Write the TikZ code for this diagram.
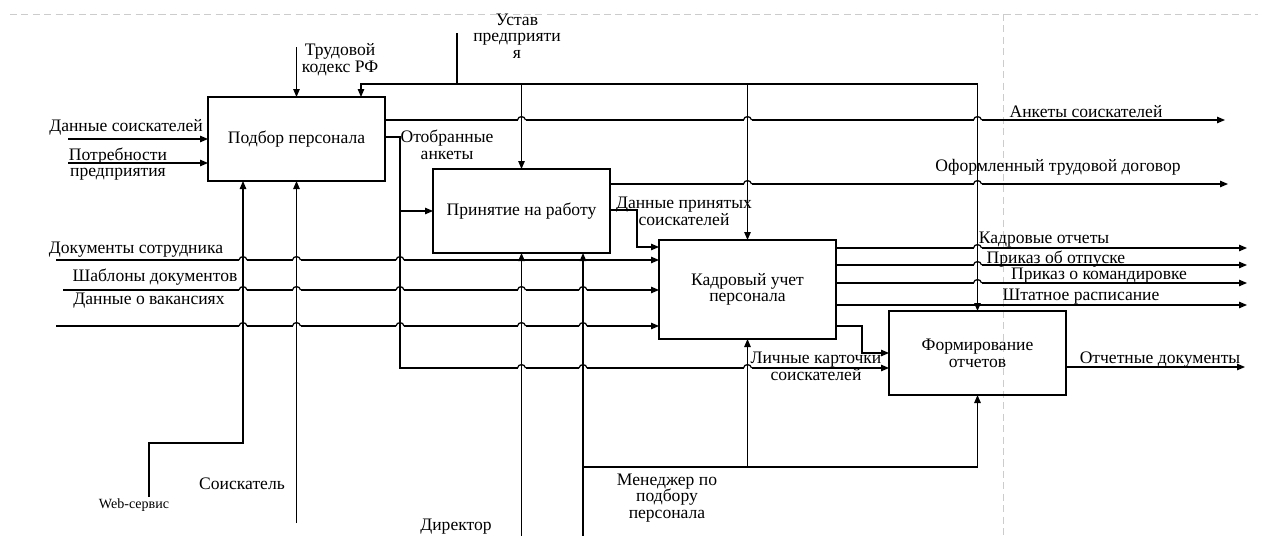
\documentclass[tikz,border=0pt]{standalone}
\usepackage{fontspec}
\setmainfont{Liberation Serif}
\usetikzlibrary{arrows.meta}
\newcommand{\hop}[2]{%
  \begin{scope}[shift={(#1,#2)}]
    \fill[white] (-4,-1.4) rectangle (4,1.4);
    \draw[line width=0.7pt] (0,-3) -- (0,3);
    \draw[line width=0.7pt] (-4,0) .. controls (-3.5,-4.5) and (3.5,-4.5) .. (4,0);
  \end{scope}}

\begin{document}
\begin{tikzpicture}[x=0.2mm, y=-0.2mm,
  func/.style={draw, line width=0.7pt, minimum width=35.4mm, minimum height=16.8mm,
               inner sep=0pt, outer sep=0pt, align=center, font=\fontsize{10}{9.5}\selectfont},
  lbl/.style={inner sep=0pt, align=center, font=\fontsize{10}{9.5}\selectfont},
  flow/.style={-{Triangle[length=1.6mm, width=1.3mm]}, line width=0.7pt},
  border/.style={gray!40, dash pattern=on 4pt off 2.5pt, line width=0.5pt},
]
\useasboundingbox (0,0) rectangle (1264,536);
\draw[border] (10,14) -- (1258,14);
\draw[border] (1003,14) -- (1003,536);

% functions
\node[func] (podbor) at (296.5,139) {Подбор персонала};
\node[func] (priem)  at (521.5,211) {Принятие на работу};
\node[func, minimum height=19.8mm] (uchet) at (747.5,289.5) {Кадровый учет\\персонала};
\node[func] (otchet) at (977.5,353) {Формирование\\отчетов};

% free ends
\coordinate (dsIn)    at (68,139);
\coordinate (potrIn)  at (68,163);
\coordinate (docIn)   at (56,260);
\coordinate (shabIn)  at (63,290);
\coordinate (vakIn)   at (56,326);
\coordinate (tkIn)    at (296.5,47);
\coordinate (ustavIn) at (457,33);
\coordinate (ustavL)  at (361,84);
\coordinate (ustavR)  at (977.5,84);
\coordinate (ankOut)  at (1225,120);
\coordinate (otobJ)   at (400,137);
\coordinate (lichnJ)  at (400,368);
\coordinate (dogOut)  at (1228,184);
\coordinate (dpJ)     at (637,210);
\coordinate (dpK)     at (637,247);
\coordinate (kadrOut) at (1247,248);
\coordinate (otpOut)  at (1247,265);
\coordinate (komOut)  at (1247,283);
\coordinate (shtOut)  at (1247,305);
\coordinate (uoJ)     at (862,326);
\coordinate (otchOut) at (1245,367);
\coordinate (webIn)   at (149,497);
\coordinate (webJ)    at (243,443);
\coordinate (soisIn)  at (296.5,523);
\coordinate (dirIn)   at (521.5,536);
\coordinate (menIn)   at (583,536);
\coordinate (menJ)    at (583,467);

% inputs
\draw[flow] (dsIn) -- (podbor.west);
\draw[flow] (potrIn) -- (potrIn -| podbor.west);
\draw[flow] (docIn) -- (docIn -| uchet.west);
\draw[flow] (shabIn) -- (shabIn -| uchet.west);
\draw[flow] (vakIn) -- (vakIn -| uchet.west);

% controls
\draw[flow] (tkIn) -- (podbor.north);
\draw[flow] (ustavIn) |- (ustavL) -- (ustavL |- podbor.north);
\draw[flow] (ustavIn |- ustavL) -- (ustavR) -- (otchet.north);
\draw[flow] (priem.north |- ustavL) -- (priem.north);
\draw[flow] (uchet.north |- ustavL) -- (uchet.north);

% outputs
\draw[flow] (podbor.east |- ankOut) -- (ankOut);
\draw[flow] (otobJ -| podbor.east) -- (otobJ) |- (priem.west);
\draw[flow] (otobJ) -- (lichnJ) -- (lichnJ -| otchet.west);
\draw[flow] (priem.east |- dogOut) -- (dogOut);
\draw[flow] (dpJ -| priem.east) -- (dpJ) -- (dpK) -- (dpK -| uchet.west);
\foreach \o in {kadrOut, otpOut, komOut, shtOut}
  \draw[flow] (uchet.east |- \o) -- (\o);
\draw[flow] (uoJ -| uchet.east) -- (uoJ) |- (otchet.west);
\draw[flow] (otchet.east |- otchOut) -- (otchOut);

% mechanisms
\draw[flow] (webIn) |- (webJ) -- (webJ |- podbor.south);
\draw[flow] (soisIn) -- (podbor.south);
\draw[flow] (dirIn) -- (priem.south);
\draw[flow] (menIn) -- (menIn |- priem.south);
\draw[flow] (menJ) -| (otchet.south);
\draw[flow] (menJ -| uchet.south) -- (uchet.south);

% line jumps
\foreach \x/\y in {521.5/120, 747.5/120, 977.5/120, 747.5/184, 977.5/184,
                   977.5/248, 977.5/265, 977.5/283,
                   243/260, 296.5/260, 400/260,
                   243/290, 296.5/290, 400/290, 521.5/290, 583/290,
                   243/326, 296.5/326, 400/326, 521.5/326, 583/326,
                   521.5/368, 583/368, 747.5/368}
  \hop{\x}{\y};

% labels
\node[lbl] (dsL)    at (126,127)  {Данные соискателей};
\node[lbl] (potrL)  at (118,164)  {Потребности\\предприятия};
\node[lbl] (tkL)    at (340,60)   {Трудовой\\кодекс РФ};
\node[lbl] (ustavT) at (517,36)   {Устав\\предприяти\\я};
\node[lbl] (otobL)  at (447,145)  {Отобранные\\анкеты};
\node[lbl] (ankL)   at (1086,112) {Анкеты соискателей};
\node[lbl] (dogL)   at (1058,167) {Оформленный трудовой договор};
\node[lbl] (dpL)    at (684,211)  {Данные принятых\\соискателей};
\node[lbl] (docL)   at (136,250)  {Документы сотрудника};
\node[lbl] (shabL)  at (155,277)  {Шаблоны документов};
\node[lbl] (vakL)   at (149,301)  {Данные о вакансиях};
\node[lbl] (kadrL)  at (1044,240) {Кадровые отчеты};
\node[lbl] (otpL)   at (1056,259) {Приказ об отпуске};
\node[lbl] (komL)   at (1099,276) {Приказ о командировке};
\node[lbl] (shtL)   at (1081,297) {Штатное расписание};
\node[lbl] (lichnL) at (816,366)  {Личные карточки\\соискателей};
\node[lbl] (otchL)  at (1160,360) {Отчетные документы};
\node[lbl, font=\fontsize{8}{9}\selectfont] (webL) at (134,505) {Web-сервис};
\node[lbl] (soisL)  at (242,484)  {Соискатель};
\node[lbl] (dirL)   at (456,527)  {Директор};
\node[lbl] (menL)   at (667,498)  {Менеджер по\\подбору\\персонала};
\end{tikzpicture}
\end{document}
